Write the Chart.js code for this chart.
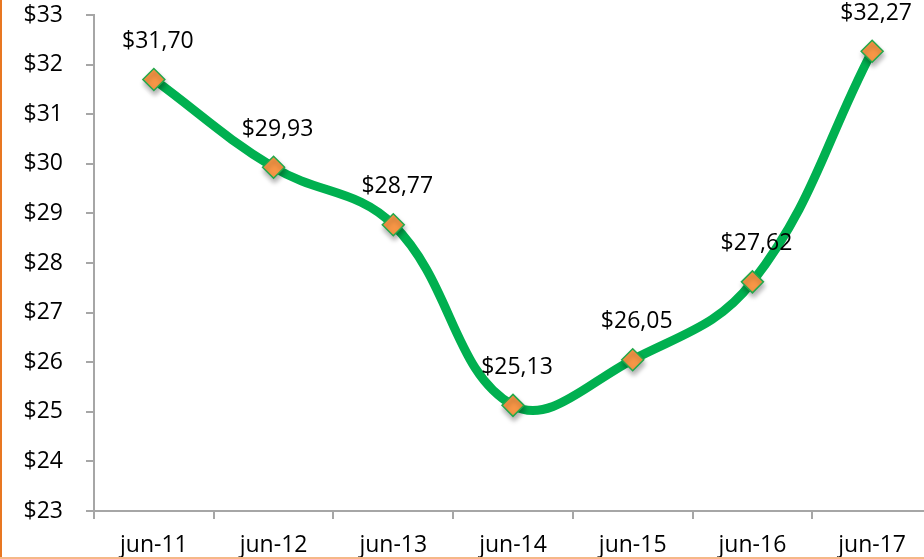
<!DOCTYPE html>
<html><head><meta charset="utf-8">
<script src="https://cdn.jsdelivr.net/npm/chart.js@4/dist/chart.umd.min.js"></script>
<style>
html,body{margin:0;padding:0;overflow:hidden;background:#fff}
#wrap{position:relative;width:932px;height:559px}
</style>
</head><body>
<div id="wrap"><canvas id="c" width="932" height="559"></canvas></div>
<script>
const categories = ['jun-11','jun-12','jun-13','jun-14','jun-15','jun-16','jun-17'];
const prices = [31.70, 29.93, 28.77, 25.13, 26.05, 27.62, 32.27];
const yMin = 23, yMax = 33, yStep = 1;

const FONT = '"Open Sans", "Liberation Sans", sans-serif';
const FSIZE = 23;
const fmt = v => '$' + v.toFixed(2).replace('.', ',');

const shadowPlugin = {
  id: 'markerShadow',
  beforeDatasetDraw(chart, args) {
    if (args.index === 1) {
      const ctx = chart.ctx;
      ctx.save();
      ctx.shadowColor = 'rgba(0,0,0,0.3)';
      ctx.shadowBlur = 5;
      ctx.shadowOffsetX = 1;
      ctx.shadowOffsetY = 4;
    }
  },
  afterDatasetDraw(chart, args) {
    if (args.index === 1) chart.ctx.restore();
  }
};

const labelPlugin = {
  id: 'valueLabels',
  afterDatasetsDraw(chart) {
    const ctx = chart.ctx;
    const meta = chart.getDatasetMeta(1);
    ctx.save();
    ctx.font = FSIZE + 'px ' + FONT;
    ctx.fillStyle = '#000';
    ctx.textAlign = 'center';
    ctx.textBaseline = 'middle';
    meta.data.forEach((pt, i) => {
      ctx.fillText(fmt(prices[i]), pt.x + 4, pt.y - 38);
    });
    ctx.restore();
  }
};

const borderPlugin = {
  id: 'frame',
  afterDraw(chart) {
    const ctx = chart.ctx;
    ctx.save();
    ctx.fillStyle = '#E87722';
    ctx.fillRect(0, 0, 2, 559);
    ctx.fillStyle = '#F6B888';
    ctx.fillRect(0, 557, 932, 2);
    ctx.restore();
  }
};

const chart = new Chart(document.getElementById('c'), {
  type: 'line',
  data: {
    labels: categories,
    datasets: [{
      data: prices,
      order: 2,
      borderColor: '#00B050',
      borderWidth: 9,
      tension: 0.4,
      pointRadius: 0,
      fill: false,
      clip: false
    }, {
      data: prices,
      order: 1,
      showLine: false,
      pointStyle: 'rectRot',
      pointRadius: 11,
      pointBackgroundColor: '#F79646',
      pointBorderColor: '#22A94B',
      pointBorderWidth: 1.5,
      clip: false
    }]
  },
  options: {
    responsive: false,
    animation: false,
    events: [],
    layout: { autoPadding: false, padding: { top: 15, right: 0, left: 0, bottom: 0 } },
    plugins: { legend: { display: false }, tooltip: { enabled: false } },
    scales: {
      x: {
        offset: true,
        grid: { offset: true, drawOnChartArea: false, tickLength: 8, color: '#A6A6A6', lineWidth: 2 },
        border: { color: '#A6A6A6', width: 2 },
        ticks: { font: { family: FONT, size: FSIZE }, color: '#000', padding: 13, maxRotation: 0, autoSkip: false },
        afterFit(s) { s.height = 48; s.paddingLeft = 0; s.paddingRight = 0; }
      },
      y: {
        min: yMin, max: yMax,
        grid: { drawOnChartArea: false, tickLength: 8, color: '#A6A6A6', lineWidth: 2 },
        border: { color: '#A6A6A6', width: 2 },
        ticks: { stepSize: yStep, font: { family: FONT, size: FSIZE }, color: '#000', padding: 23,
                 callback: v => '$' + v },
        afterFit(s) { s.width = 94; s.paddingTop = 0; s.paddingBottom = 0; }
      }
    }
  },
  plugins: [shadowPlugin, labelPlugin, borderPlugin]
});
</script>
</body></html>
